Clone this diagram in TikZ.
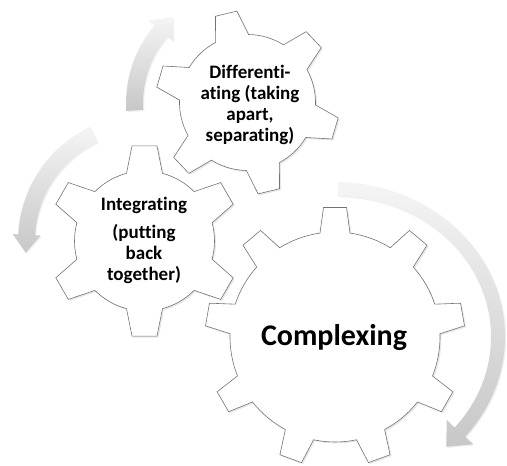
\documentclass[tikz,border=0pt]{standalone}
\usepackage{fontspec}
\setmainfont[Ligatures=NoCommon]{Carlito}
\usetikzlibrary{shadows}
\tikzset{
  gearstyle/.style={draw=black!55, line width=0.6pt, fill=white,
    drop shadow={opacity=0.18, shadow xshift=1.5pt, shadow yshift=-1.5pt}},
  arrowstyle/.style={top color=black!4, bottom color=black!22, draw=none,
    drop shadow={opacity=0.12, shadow xshift=1.2pt, shadow yshift=-1.2pt}},
  geartext/.style={font=\bfseries\fontsize{19}{21}\selectfont, align=center, inner sep=0pt},
}
% #1 cx, #2 cy, #3 teeth, #4 phase, #5 R, #6 r, #7 tip half width, #8 base half width
\newcommand\mygear[8]{%
  \pgfmathsetmacro\gstep{360/#3}%
  \pgfmathsetmacro\gat{asin(#7/#5)}%
  \pgfmathsetmacro\gab{asin(#8/#6)}%
  \begin{scope}[shift={(#1,#2)}]
  \path[gearstyle] ({#4-\gab}:#6pt)
    \foreach \k in {1,...,#3}{
      -- ({#4+(\k-1)*\gstep-\gat}:#5pt)
      -- ({#4+(\k-1)*\gstep+\gat}:#5pt)
      -- ({#4+(\k-1)*\gstep+\gab}:#6pt)
      arc[start angle={#4+(\k-1)*\gstep+\gab}, end angle={#4+\k*\gstep-\gab}, radius=#6pt]
    } -- cycle;
  \end{scope}}
\begin{document}
\begin{tikzpicture}[x=1pt,y=1pt]
\useasboundingbox (0,0) rectangle (507,466);
% arrow around the big gear
\begin{scope}[shift={(335,129)}]
  \path[arrowstyle] (89:170pt and 155pt)
    arc[start angle=89, end angle=-40, x radius=170pt, y radius=155pt]
    -- (138.1,-107.3) -- (111.3,-109.8) -- (111.7,-82.9)
    -- (-40:156pt and 141pt)
    arc[start angle=-40, end angle=89, x radius=156pt, y radius=141pt] -- cycle;
\end{scope}
% arrow around the small gear
\begin{scope}[shift={(247.5,362.5)}]
  \path[arrowstyle] (183.5:121.5pt)
    arc[start angle=183.5, end angle=140, radius=121.5pt]
    -- (140:129pt) -- (-75.0,86.4) -- (140:97pt)
    -- (140:104.5pt)
    arc[start angle=140, end angle=183.5, radius=104.5pt] -- cycle;
\end{scope}
% arrow around the medium gear
\begin{scope}[shift={(144.5,225)}]
  \path[arrowstyle] (115.5:126.5pt)
    arc[start angle=115.5, end angle=177, radius=126.5pt]
    -- (177:132pt) -- (-118.8,-11.7) -- (177:104pt)
    -- (177:109.5pt)
    arc[start angle=177, end angle=115.5, radius=109.5pt] -- cycle;
\end{scope}
% gears
\mygear{335}{129}{9}{90}{130}{105}{11.5}{15}
\mygear{144.5}{225}{6}{90}{96}{70}{12.5}{18}
\mygear{247.5}{363.5}{6}{103.5}{92}{68}{11}{17}
% texts
\node[geartext] (diff) at (250,361) {Differenti-\\ating (taking\\apart,\\separating)};
\node[geartext] (integ) at (144,225.5) {Integrating\\[7pt](putting\\back\\together)};
\node[font=\bfseries\fontsize{30}{36}\selectfont, inner sep=0pt] (cplx) at (334,128) {Complexing};
\end{tikzpicture}
\end{document}
